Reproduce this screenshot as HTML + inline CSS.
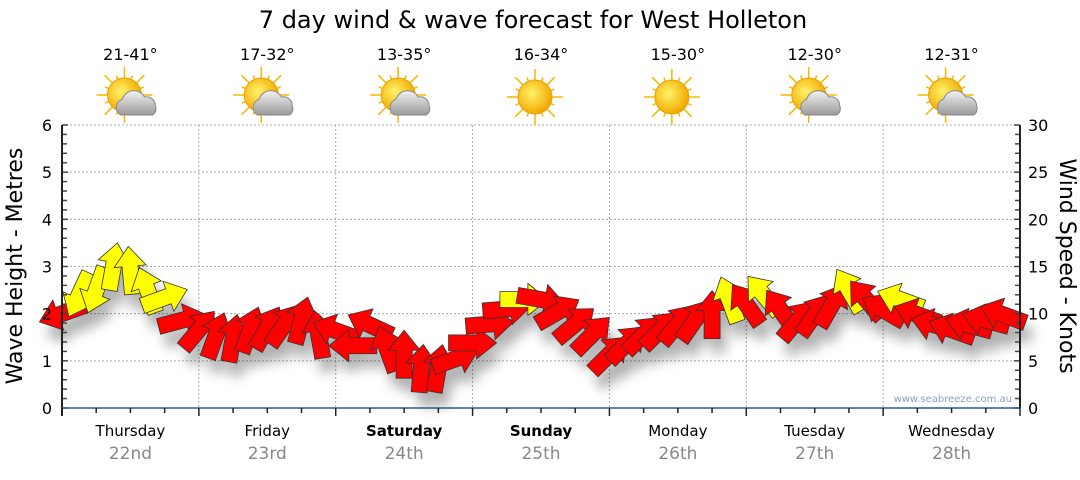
<!DOCTYPE html>
<html><head><meta charset="utf-8"><style>
body{margin:0;background:#fff;font-family:"Liberation Sans","DejaVu Sans",sans-serif}
svg text{font-family:"DejaVu Sans","Liberation Sans",sans-serif}
</style></head><body>
<svg id="c" width="1080" height="475" xmlns="http://www.w3.org/2000/svg">
<defs>
<filter id="sh" x="-50%" y="-50%" width="200%" height="200%"><feGaussianBlur stdDeviation="6"/></filter>
<radialGradient id="sun" cx="0.4" cy="0.4" r="0.6"><stop offset="0" stop-color="#fff36a"/><stop offset="1" stop-color="#f2a900"/></radialGradient>
<linearGradient id="cld" x1="0" y1="0" x2="0" y2="1"><stop offset="0" stop-color="#f2f2f2"/><stop offset="1" stop-color="#9a9a9a"/></linearGradient>
</defs>
<text x="533" y="28" font-size="24" text-anchor="middle" fill="#000">7 day wind &amp; wave forecast for West Holleton</text>
<g id="grid"></g><g id="shadows" filter="url(#sh)" opacity="0.3"></g><g id="arrows"></g><g id="axes"></g><g id="head"></g>
<text x="1012" y="402" font-size="10" text-anchor="end" fill="#8aa0c0">www.seabreeze.com.au</text>
<text transform="translate(22,266) rotate(-90)" font-size="22" text-anchor="middle">Wave Height - Metres</text>
<text transform="translate(1060,266) rotate(90)" font-size="22" text-anchor="middle">Wind Speed - Knots</text>
</svg>
<script>
const days=["Thursday","Friday","Saturday","Sunday","Monday","Tuesday","Wednesday"];
const dates=["22nd","23rd","24th","25th","26th","27th","28th"];
const boldDays=[false,false,true,true,false,false,false];
const temps=["21-41°","17-32°","13-35°","16-34°","15-30°","12-30°","12-31°"];
const cloudy=[true,true,true,false,false,true,true];
const leftTicks=[0,1,2,3,4,5,6];
const rightTicks=[0,5,10,15,20,25,30];
// wind, 3-hourly
const windKnots=[10,12,12.5,15,14.6,12.5,11.7,9.3, 8.3,7.7,7.4,8.3,8.5,8.8,9.3,7.8, 8.2,6.6,8.8,6.3,5.7,4.2,4.2,5.2, 6.9,8.9,10.5,11.5,11.5,10.2,8.9,7.8, 5.7,6.8,7.8,8.3,8.9,9.3,9.9,11.5, 11,12,10.4,9.3,9.9,10.9,12.5,11.5, 10.4,11.5,9.9,8.8,8.3,8.8,9.3,9.9];
const windDir=[160,115,110,-80,-95,-110,-20,-15, -50,-70,-80,-70,-60,-55,-75,-100, 200,180,205,-110,-90,-85,-80,-20, 0,-5,-5,0,10,-30,-40,-45, -45,-45,-45,-45,-50,-55,-90,-110, -125,-130,-125,-50,-55,-60,-120,-130, -150,-160,-160,-165,-160,-165,-165,-160];
const windCol=["r","y","y","y","y","y","y","r", "r","r","r","r","r","r","r","r", "r","r","r","r","r","r","r","r", "r","r","r","y","r","r","r","r", "r","r","r","r","r","r","r","y", "r","y","r","r","r","r","y","r", "r","y","r","r","r","r","r","r"];
const X0=62,X1=1020,Y0=408,Y1=125;
const xHour=h=>X0+(X1-X0)*h/168;
const yM=m=>Y0-(Y0-Y1)*m/6;
const yK=k=>Y0-(Y0-Y1)*k/30;
const NS="http://www.w3.org/2000/svg";
function mk(tag,attrs,parent){const e=document.createElementNS(NS,tag);for(const k in attrs)e.setAttribute(k,attrs[k]);parent.appendChild(e);return e;}
const grid=document.getElementById('grid'),axes=document.getElementById('axes'),head=document.getElementById('head'),arr=document.getElementById('arrows'),shd=document.getElementById('shadows');
leftTicks.forEach(v=>{if(v>0){const l=mk('line',{x1:X0,x2:X1,y1:yM(v),y2:yM(v),stroke:'#aaa','stroke-dasharray':'2,2'},grid);}
 const t=mk('text',{x:X0-10,y:yM(v)+6,'font-size':16,'text-anchor':'end',fill:'#000'},axes);t.textContent=v;});
rightTicks.forEach(v=>{const t=mk('text',{x:X1+8,y:yK(v)+6,'font-size':16,fill:'#000'},axes);t.textContent=v;});
for(let i=0;i<=30;i++){mk('line',{x1:X0,x2:X0+(i%5==0?6:5),y1:yM(i/5),y2:yM(i/5),stroke:'#444','stroke-width':1.5},axes);mk('line',{x1:X1,x2:X1-(i%5==0?6:5),y1:yK(i),y2:yK(i),stroke:'#444','stroke-width':1.5},axes);}
mk('line',{x1:X0,x2:X0,y1:Y1,y2:Y0+8,stroke:'#222','stroke-width':2},axes);
mk('line',{x1:X1,x2:X1,y1:Y1,y2:Y0,stroke:'#222','stroke-width':2},axes);
mk('line',{x1:X0,x2:X1,y1:Y0,y2:Y0,stroke:'#1f5f8f','stroke-width':1.5},axes);
for(let h=0;h<=168;h+=6){mk('line',{x1:xHour(h),x2:xHour(h),y1:Y0,y2:Y0+(h%24==0?8:5),stroke:'#222','stroke-width':1.5},axes);
 if(h%24==0&&h>0&&h<168)mk('line',{x1:xHour(h),x2:xHour(h),y1:Y1,y2:Y0,stroke:'#aaa','stroke-dasharray':'2,2'},grid);}
days.forEach((d,i)=>{const cx=xHour(i*24+12);
 const t=mk('text',{x:cx,y:436,'font-size':15,'text-anchor':'middle','font-weight':boldDays[i]?'bold':'normal'},axes);t.textContent=d;
 const t2=mk('text',{x:cx,y:459,'font-size':17,'text-anchor':'middle',fill:'#888'},axes);t2.textContent=dates[i];
 const t3=mk('text',{x:cx,y:60,'font-size':16,'text-anchor':'middle'},head);t3.textContent=temps[i];
 const g=mk('g',{transform:`translate(${cx-6},${cloudy[i]?95:97})`},head);
 for(let a=0;a<16;a++){const r=a%2?21:28,an=a*Math.PI/8;mk('line',{x1:0,y1:0,x2:r*Math.cos(an),y2:r*Math.sin(an),stroke:'#f5b800','stroke-width':1.5},g);}
 mk('circle',{cx:0,cy:0,r:17,fill:'url(#sun)',stroke:'#e8a000'},g);
 if(cloudy[i]){mk('path',{d:'M-4,20 a9,9 0 0 1 2,-16 a12,12 0 0 1 22,-2 a9,9 0 0 1 11,9 a7,7 0 0 1 -3,9 z',fill:'url(#cld)',stroke:'#888'},g);}
});
const arrowPath="M-24,-8 L4,-8 L4,-16 L24,0 L4,16 L4,8 L-24,8 Z";
windKnots.forEach((k,i)=>{const x=xHour(i*3),y=yK(k),a=windDir[i];
 mk('path',{d:arrowPath,transform:`translate(${x+6},${y+14}) rotate(${a})`,fill:'#000'},shd);
 const p=mk('path',{d:arrowPath,transform:`translate(${x},${y}) rotate(${a})`,fill:windCol[i]=='y'?'#ffff00':'#ff0000',stroke:'#333','stroke-width':0.8},arr);
 
 
});
</script>
</body></html>
